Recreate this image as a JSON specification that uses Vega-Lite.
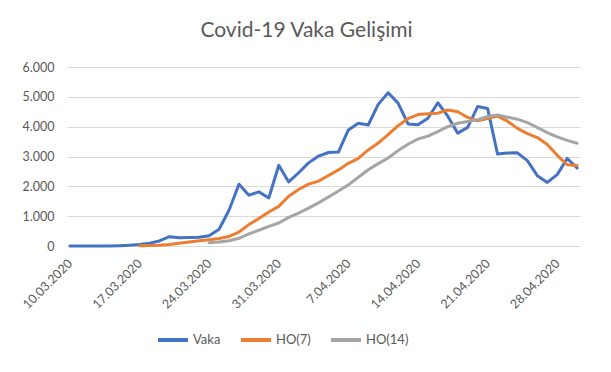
{
  "$schema": "https://vega.github.io/schema/vega-lite/v6.json",
  "width": 513,
  "height": 179,
  "autosize": {"type": "none"},
  "padding": {"left": 67, "top": 67, "right": 31, "bottom": 126},
  "background": "white",
  "title": {"text": "Covid-19 Vaka Gelişimi", "anchor": "middle", "dx": -17, "offset": 20, "font": "Lato", "fontSize": 21, "fontWeight": "normal", "color": "#595959"},
  "data": {"values": [
    {"d":"2020-03-10","Vaka":0},
    {"d":"2020-03-11","Vaka":1},
    {"d":"2020-03-12","Vaka":0},
    {"d":"2020-03-13","Vaka":4},
    {"d":"2020-03-14","Vaka":1},
    {"d":"2020-03-15","Vaka":12},
    {"d":"2020-03-16","Vaka":29},
    {"d":"2020-03-17","Vaka":51,"HO(7)":7},
    {"d":"2020-03-18","Vaka":93,"HO(7)":14},
    {"d":"2020-03-19","Vaka":168,"HO(7)":27},
    {"d":"2020-03-20","Vaka":311,"HO(7)":51},
    {"d":"2020-03-21","Vaka":277,"HO(7)":95},
    {"d":"2020-03-22","Vaka":289,"HO(7)":134},
    {"d":"2020-03-23","Vaka":293,"HO(7)":174},
    {"d":"2020-03-24","Vaka":343,"HO(7)":212,"HO(14)":109},
    {"d":"2020-03-25","Vaka":561,"HO(7)":253,"HO(14)":134},
    {"d":"2020-03-26","Vaka":1196,"HO(7)":320,"HO(14)":174},
    {"d":"2020-03-27","Vaka":2069,"HO(7)":467,"HO(14)":259},
    {"d":"2020-03-28","Vaka":1704,"HO(7)":718,"HO(14)":407},
    {"d":"2020-03-29","Vaka":1815,"HO(7)":922,"HO(14)":528},
    {"d":"2020-03-30","Vaka":1610,"HO(7)":1140,"HO(14)":657},
    {"d":"2020-03-31","Vaka":2704,"HO(7)":1328,"HO(14)":770},
    {"d":"2020-04-01","Vaka":2148,"HO(7)":1666,"HO(14)":960},
    {"d":"2020-04-02","Vaka":2456,"HO(7)":1892,"HO(14)":1106},
    {"d":"2020-04-03","Vaka":2786,"HO(7)":2072,"HO(14)":1270},
    {"d":"2020-04-04","Vaka":3013,"HO(7)":2175,"HO(14)":1447},
    {"d":"2020-04-05","Vaka":3135,"HO(7)":2362,"HO(14)":1642},
    {"d":"2020-04-06","Vaka":3148,"HO(7)":2550,"HO(14)":1845},
    {"d":"2020-04-07","Vaka":3892,"HO(7)":2770,"HO(14)":2049},
    {"d":"2020-04-08","Vaka":4117,"HO(7)":2940,"HO(14)":2303},
    {"d":"2020-04-09","Vaka":4056,"HO(7)":3221,"HO(14)":2557},
    {"d":"2020-04-10","Vaka":4747,"HO(7)":3450,"HO(14)":2761},
    {"d":"2020-04-11","Vaka":5138,"HO(7)":3730,"HO(14)":2952},
    {"d":"2020-04-12","Vaka":4789,"HO(7)":4033,"HO(14)":3198},
    {"d":"2020-04-13","Vaka":4093,"HO(7)":4270,"HO(14)":3410},
    {"d":"2020-04-14","Vaka":4062,"HO(7)":4405,"HO(14)":3587},
    {"d":"2020-04-15","Vaka":4281,"HO(7)":4429,"HO(14)":3684},
    {"d":"2020-04-16","Vaka":4801,"HO(7)":4452,"HO(14)":3837},
    {"d":"2020-04-17","Vaka":4353,"HO(7)":4559,"HO(14)":4004},
    {"d":"2020-04-18","Vaka":3783,"HO(7)":4502,"HO(14)":4116},
    {"d":"2020-04-19","Vaka":3977,"HO(7)":4309,"HO(14)":4171},
    {"d":"2020-04-20","Vaka":4674,"HO(7)":4193,"HO(14)":4231},
    {"d":"2020-04-21","Vaka":4611,"HO(7)":4276,"HO(14)":4340},
    {"d":"2020-04-22","Vaka":3083,"HO(7)":4354,"HO(14)":4392},
    {"d":"2020-04-23","Vaka":3116,"HO(7)":4183,"HO(14)":4318},
    {"d":"2020-04-24","Vaka":3122,"HO(7)":3942,"HO(14)":4251},
    {"d":"2020-04-25","Vaka":2861,"HO(7)":3767,"HO(14)":4135},
    {"d":"2020-04-26","Vaka":2357,"HO(7)":3635,"HO(14)":3972},
    {"d":"2020-04-27","Vaka":2131,"HO(7)":3403,"HO(14)":3798},
    {"d":"2020-04-28","Vaka":2392,"HO(7)":3040,"HO(14)":3658},
    {"d":"2020-04-29","Vaka":2936,"HO(7)":2723,"HO(14)":3539},
    {"d":"2020-04-30","Vaka":2615,"HO(7)":2702,"HO(14)":3443}
  ]},
  "transform": [{"fold": ["Vaka", "HO(7)", "HO(14)"], "as": ["seri", "deger"]}],
  "mark": {"type": "line", "strokeWidth": 3, "strokeJoin": "round", "strokeCap": "round"},
  "encoding": {
    "x": {
      "field": "d", "type": "temporal",
      "scale": {"type": "utc", "domain": [
        {"year": 2020, "month": 3, "date": 9, "hours": 17, "utc": true},
        {"year": 2020, "month": 4, "date": 30, "hours": 7, "utc": true}
      ]},
      "axis": {
        "title": null,
        "values": [
          {"year": 2020, "month": 3, "date": 10, "utc": true},
          {"year": 2020, "month": 3, "date": 17, "utc": true},
          {"year": 2020, "month": 3, "date": 24, "utc": true},
          {"year": 2020, "month": 3, "date": 31, "utc": true},
          {"year": 2020, "month": 4, "date": 7, "utc": true},
          {"year": 2020, "month": 4, "date": 14, "utc": true},
          {"year": 2020, "month": 4, "date": 21, "utc": true},
          {"year": 2020, "month": 4, "date": 28, "utc": true}
        ],
        "labelExpr": "utcFormat(datum.value, '%-d.%m.%Y')",
        "labelAngle": -45, "labelAlign": "right", "labelBaseline": "middle",
        "labelPadding": 15, "labelDx": 2, "grid": false, "ticks": false, "domain": false,
        "labelFont": "Lato", "labelFontSize": 12.5, "labelColor": "#595959", "labelOverlap": false
      }
    },
    "y": {
      "field": "deger", "type": "quantitative",
      "scale": {"domain": [0, 6000], "nice": false},
      "axis": {
        "title": null, "values": [0, 1000, 2000, 3000, 4000, 5000, 6000],
        "labelExpr": "replace(format(datum.value, ','), ',', '.')",
        "grid": true, "gridColor": "#d9d9d9", "gridWidth": 1,
        "ticks": false, "domain": false, "labelPadding": 13,
        "labelFont": "Lato", "labelFontSize": 12.5, "labelColor": "#595959"
      }
    },
    "color": {
      "field": "seri", "type": "nominal",
      "scale": {"domain": ["Vaka", "HO(7)", "HO(14)"], "range": ["#4472C4", "#ED7D31", "#A5A5A5"]},
      "legend": {
        "title": null, "orient": "none", "direction": "horizontal",
        "legendX": 89, "legendY": 256,
        "symbolType": "stroke", "symbolSize": 900, "symbolStrokeWidth": 4,
        "labelFont": "Lato", "labelFontSize": 13, "labelColor": "#595959",
        "columnPadding": 12, "labelOffset": 3
      }
    }
  },
  "config": {"view": {"stroke": null}}
}
